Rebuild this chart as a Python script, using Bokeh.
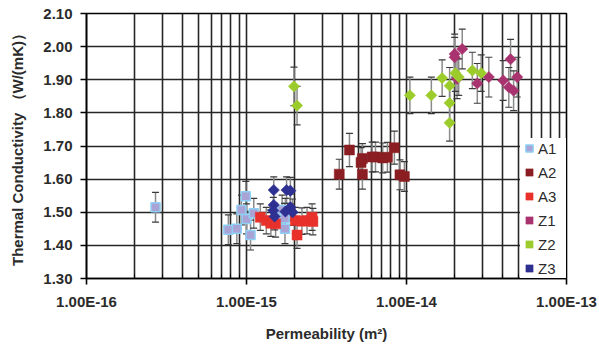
import math
from bokeh.plotting import figure
from bokeh.models import (Range1d, FixedTicker, Whisker, TeeHead, ColumnDataSource,
                          Legend, LegendItem)
from bokeh.embed import file_html
from bokeh.resources import INLINE

# ---------------- data ----------------
x_ticks = [1e-16, 1e-15, 1e-14, 1e-13]
x_tick_labels = ["1.00E-16", "1.00E-15", "1.00E-14", "1.00E-13"]
y_ticks = [1.3, 1.4, 1.5, 1.6, 1.7, 1.8, 1.9, 2.0, 2.1]
y_tick_labels = ["1.30", "1.40", "1.50", "1.60", "1.70", "1.80", "1.90", "2.00", "2.10"]

series_names = ["A1", "A2", "A3", "Z1", "Z2", "Z3"]

a1_perm = [2.7e-16, 7.7e-16, 8.7e-16, 9.3e-16, 1.0e-15, 0.99e-15, 1.06e-15, 1.11e-15, 1.67e-15, 1.73e-15, 1.74e-15]
a1_tc = [1.515, 1.447, 1.450, 1.507, 1.480, 1.548, 1.431, 1.497, 1.507, 1.482, 1.450]
a1_err = [0.045, 0.045, 0.045, 0.045, 0.045, 0.045, 0.045, 0.045, 0.045, 0.045, 0.045]

a2_perm = [3.8e-15, 4.4e-15, 5.2e-15, 5.3e-15, 5.3e-15, 6.1e-15, 6.4e-15, 7.1e-15, 7.6e-15, 8.4e-15, 9.1e-15, 9.7e-15]
a2_tc = [1.615, 1.688, 1.650, 1.662, 1.615, 1.667, 1.667, 1.664, 1.666, 1.695, 1.613, 1.608]
a2_err = [0.045, 0.050, 0.045, 0.045, 0.045, 0.045, 0.045, 0.045, 0.045, 0.050, 0.045, 0.045]

a3_perm = [1.22e-15, 1.33e-15, 1.42e-15, 1.52e-15, 2.02e-15, 2.07e-15, 2.22e-15, 2.39e-15, 2.57e-15, 2.6e-15]
a3_tc = [1.485, 1.475, 1.467, 1.465, 1.475, 1.431, 1.473, 1.475, 1.485, 1.472]
a3_err = [0.040, 0.040, 0.040, 0.040, 0.040, 0.040, 0.040, 0.040, 0.040, 0.040]

z1_perm = [2.0e-14, 2.0e-14, 2.23e-14, 2.07e-14, 2.77e-14, 3.27e-14, 4.02e-14, 4.36e-14, 4.47e-14, 4.67e-14, 4.92e-14]
z1_tc = [1.978, 1.968, 1.993, 1.903, 1.889, 1.908, 1.898, 1.877, 1.962, 1.867, 1.908]
z1_err = [0.060, 0.060, 0.060, 0.060, 0.060, 0.060, 0.060, 0.060, 0.060, 0.060, 0.060]

z2_perm = [1.98e-15, 2.07e-15, 1.05e-14, 1.43e-14, 1.67e-14, 1.86e-14, 1.86e-14, 1.86e-14, 2.02e-14, 2.12e-14, 2.58e-14, 2.93e-14]
z2_tc = [1.880, 1.822, 1.853, 1.853, 1.905, 1.882, 1.830, 1.770, 1.920, 1.908, 1.928, 1.920]
z2_err = [0.058, 0.058, 0.055, 0.055, 0.055, 0.055, 0.055, 0.055, 0.055, 0.055, 0.055, 0.055]

z3_perm = [1.48e-15, 1.48e-15, 1.47e-15, 1.50e-15, 1.78e-15, 1.88e-15, 1.75e-15, 1.88e-15, 1.94e-15]
z3_tc = [1.567, 1.522, 1.505, 1.487, 1.567, 1.565, 1.502, 1.515, 1.500]
z3_err = [0.040, 0.040, 0.040, 0.040, 0.040, 0.040, 0.040, 0.040, 0.040]

series_data = {
    "A1": (a1_perm, a1_tc, a1_err),
    "A2": (a2_perm, a2_tc, a2_err),
    "A3": (a3_perm, a3_tc, a3_err),
    "Z1": (z1_perm, z1_tc, z1_err),
    "Z2": (z2_perm, z2_tc, z2_err),
    "Z3": (z3_perm, z3_tc, z3_err),
}

# ---------------- styles ----------------
styles = {
    "A1": dict(marker="square", size=9, angle=0, fill="#aaa3d6", line="#8fd0f5", lw=1.5),
    "A2": dict(marker="square", size=10, angle=0, fill="#8b1e22", line="#8b1e22", lw=0.5),
    "A3": dict(marker="square", size=10, angle=0, fill="#e8312b", line="#e8312b", lw=0.5),
    "Z1": dict(marker="square", size=8, angle=math.pi / 4, fill="#a8336f", line="#a8336f", lw=0.5),
    "Z2": dict(marker="square", size=8, angle=math.pi / 4, fill="#9ccc2c", line="#9ccc2c", lw=0.5),
    "Z3": dict(marker="square", size=8, angle=math.pi / 4, fill="#2e3192", line="#2e3192", lw=0.5),
}

FONT = "Liberation Sans"
TXT = "#2b2b2b"
GRID = "#262626"

p = figure(width=599, height=348, x_axis_type="log",
           x_range=Range1d(1e-16, 1e-13), y_range=Range1d(1.3, 2.1),
           output_backend="svg", toolbar_location=None,
           min_border_left=86, min_border_right=33, min_border_top=13, min_border_bottom=70)
p.background_fill_color = "white"
p.border_fill_color = "white"
p.outline_line_color = "black"
p.outline_line_width = 1.6

# axes
minor = [m * 10.0 ** e for e in range(-16, -13) for m in range(2, 10)]
p.xaxis.ticker = FixedTicker(ticks=x_ticks, minor_ticks=minor)
p.xaxis.major_label_overrides = dict(zip(x_ticks, x_tick_labels))
p.yaxis.ticker = FixedTicker(ticks=y_ticks)
p.yaxis.major_label_overrides = dict(zip(y_ticks, y_tick_labels))

for ax in (p.xaxis, p.yaxis):
    ax.axis_line_color = "black"
    ax.axis_line_width = 1.6
    ax.major_tick_line_color = "black"
    ax.major_tick_line_width = 1.6
    ax.major_tick_out = 6
    ax.major_tick_in = 0
    ax.major_label_text_font = FONT
    ax.major_label_text_font_style = "bold"
    ax.major_label_text_font_size = "15px"
    ax.major_label_text_color = TXT
    ax.axis_label_text_font = FONT
    ax.axis_label_text_font_style = "bold"
    ax.axis_label_text_font_size = "15px"
    ax.axis_label_text_color = TXT

p.xaxis.minor_tick_line_color = "black"
p.xaxis.minor_tick_in = 4
p.xaxis.minor_tick_out = 0
p.yaxis.minor_tick_line_color = None
p.xaxis.major_label_standoff = 8
p.yaxis.major_label_standoff = 8
p.xaxis.axis_label = "Permeability (m\u00b2)"
p.yaxis.axis_label = "Thermal Conductivity \uff08W/(mK)\uff09"
p.xaxis.axis_label_standoff = 12
p.yaxis.axis_label_standoff = 14

p.xgrid.grid_line_color = GRID
p.xgrid.grid_line_width = 1.6
p.xgrid.minor_grid_line_color = GRID
p.xgrid.minor_grid_line_width = 1.6
p.ygrid.grid_line_color = GRID
p.ygrid.grid_line_width = 1.6

items = []
for name in series_names:
    xs, ys, es = series_data[name]
    st = styles[name]
    src = ColumnDataSource(dict(x=xs, y=ys,
                                upper=[v + e for v, e in zip(ys, es)],
                                lower=[v - e for v, e in zip(ys, es)]))
    w = Whisker(source=src, base="x", upper="upper", lower="lower", dimension="height",
                line_color="#8a8a8a", line_width=1.5,
                upper_head=TeeHead(size=7, line_color="#3a3a3a", line_width=1.2),
                lower_head=TeeHead(size=7, line_color="#3a3a3a", line_width=1.2))
    p.add_layout(w)
    r = p.scatter("x", "y", source=src, marker=st["marker"], size=st["size"], angle=st["angle"],
                  fill_color=st["fill"], line_color=st["line"], line_width=st["lw"])
    items.append(LegendItem(label=name, renderers=[r]))

legend = Legend(items=items, location=(434, 0))
legend.margin = 0
legend.padding = 0
legend.spacing = 4
legend.glyph_width = 18
legend.glyph_height = 20
legend.label_height = 20
legend.label_width = 28
legend.label_standoff = 0
legend.label_text_font = FONT
legend.label_text_font_size = "15px"
legend.label_text_color = TXT
legend.background_fill_color = "white"
legend.background_fill_alpha = 1.0
legend.border_line_color = None
p.add_layout(legend)

open("out.html", "w").write(file_html(p, INLINE))
